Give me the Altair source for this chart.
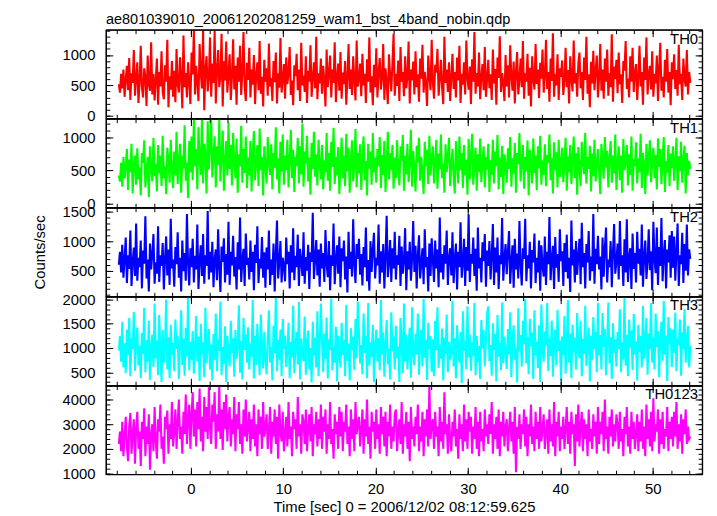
import math
import altair as alt
import pandas as pd

# ---------------- data ----------------
T_START = -7.8
T_STEP = 0.125

th0 = [
    520, 380, 690, 450, 760, 310, 600, 820, 420, 950, 260, 700, 540, 1080, 330, 620,
    880, 210, 560, 1150, 470, 300, 780, 640, 160, 990, 520, 410, 1210, 350, 690, 250,
    600, 940, 180, 720, 480, 1060, 390, 270, 830, 560, 1250, 140, 650, 430, 900, 310,
    740, 220, 1100, 520, 380, 960, 640, 120, 1320, 470, 700, 300, 880, 560, 190, 1040,
    680, 1400, 350, 820, 560, 240, 1180, 700, 450, 1410, 90, 760, 980, 400, 620, 1290,
    310, 860, 540, 1400, 200, 730, 1080, 470, 640, 1350, 150, 900, 580, 1220, 380, 700,
    1010, 260, 640, 1260, 430, 820, 180, 960, 560, 1150, 340, 720, 1380, 480, 240, 870,
    590, 1120, 300, 760, 510, 1000, 190, 680, 880, 420, 1230, 360, 640, 150, 920, 560,
    780, 330, 1190, 480, 620, 240, 900, 550, 1040, 200, 700, 460, 1280, 380, 610, 850,
    280, 960, 520, 700, 1130, 340, 580, 170, 830, 650, 1020, 420, 760, 240, 1200, 500,
    660, 390, 980, 210, 740, 560, 1160, 310, 620, 880, 450, 1300, 270, 700, 530, 940,
    360, 820, 580, 150, 1090, 470, 690, 990, 300, 760, 540, 1210, 220, 640, 860, 410,
    1050, 280, 710, 520, 900, 180, 630, 1180, 440, 760, 340, 980, 590, 250, 1240, 480,
    600, 860, 320, 1020, 500, 690, 210, 930, 560, 1290, 380, 650, 170, 840, 470, 1110,
    300, 720, 950, 430, 620, 1180, 260, 780, 540, 190, 1010, 660, 400, 870, 1350, 330,
    690, 490, 910, 240, 1130, 560, 720, 320, 980, 450, 640, 1220, 200, 760, 580, 890,
    350, 1060, 470, 680, 230, 940, 610, 1170, 380, 720, 530, 160, 990, 650, 420, 1250,
    560, 280, 840, 710, 1100, 330, 600, 920, 470, 190, 1300, 540, 760, 390, 880, 240,
    650, 1020, 440, 720, 300, 960, 580, 1150, 210, 690, 510, 880, 350, 1240, 620, 430,
    810, 190, 930, 560, 1380, 360, 700, 480, 1040, 270, 640, 850, 420, 1130, 310, 600,
    920, 450, 680, 260, 1090, 530, 770, 180, 960, 620, 1310, 390, 700, 540, 240, 1000,
    480, 830, 300, 1160, 640, 410, 890, 200, 720, 1050, 350, 600, 940, 470, 1230, 280,
    700, 560, 1020, 330, 790, 150, 980, 620, 430, 1180, 520, 760, 290, 870, 610, 1090,
    380, 660, 1250, 440, 720, 230, 940, 570, 1360, 310, 690, 500, 1010, 260, 780, 640,
    910, 340, 580, 1120, 470, 750, 200, 980, 620, 400, 1240, 530, 700, 310, 860, 1040,
    450, 720, 260, 960, 590, 1300, 360, 680, 140, 890, 530, 1070, 420, 750, 990, 300,
    620, 1180, 410, 760, 280, 940, 560, 1090, 330, 700, 470, 1340, 230, 810, 600, 920,
    370, 1040, 520, 680, 210, 900, 740, 1230, 440, 610, 300, 980, 560, 1120, 390, 700,
    850, 260, 630, 1150, 480, 720, 180, 960, 590, 1290, 350, 680, 820, 430, 1060, 310,
    690, 530, 990, 240, 780, 1200, 410, 640, 300, 920, 560, 1100, 380, 720, 170, 880,
    600, 1010, 440, 750, 330, 1170, 520, 690, 260, 940, 610, 480, 1080, 350, 720, 540,
]

th1 = [
    420, 330, 610, 250, 700, 380, 560, 820, 200, 660, 470, 900, 150, 590, 720, 280,
    830, 360, 540, 120, 760, 610, 950, 240, 480, 700, 90, 860, 520, 330, 990, 410,
    600, 180, 880, 450, 720, 260, 1020, 380, 560, 140, 840, 650, 310, 960, 500, 230,
    780, 420, 1080, 290, 650, 900, 160, 720, 530, 1180, 340, 620, 80, 940, 470, 1010,
    350, 1280, 560, 820, 210, 1150, 640, 430, 1280, 300, 900, 720, 150, 1240, 510, 860,
    1280, 390, 700, 1010, 240, 860, 580, 1280, 330, 760, 1100, 190, 640, 940, 420, 1220,
    520, 880, 270, 1060, 640, 380, 980, 160, 740, 560, 1170, 310, 820, 460, 1010, 230,
    690, 420, 940, 180, 760, 1090, 350, 610, 880, 260, 1130, 500, 700, 120, 860, 570,
    300, 1000, 620, 430, 890, 210, 760, 540, 1150, 360, 680, 150, 930, 480, 1040, 280,
    720, 500, 960, 240, 640, 1110, 380, 810, 170, 700, 560, 990, 300, 860, 440, 1200,
    250, 780, 600, 1020, 330, 690, 130, 910, 520, 1080, 400, 740, 270, 960, 580, 360,
    880, 210, 650, 470, 1060, 340, 760, 190, 930, 550, 1140, 290, 700, 420, 850, 140,
    620, 990, 380, 720, 260, 1050, 480, 840, 160, 670, 950, 330, 580, 1120, 240, 760,
    450, 890, 200, 700, 1010, 350, 640, 120, 900, 530, 780, 280, 1060, 470, 690, 310,
    820, 560, 1000, 230, 730, 430, 940, 170, 610, 1080, 360, 760, 500, 880, 220, 690,
    380, 950, 540, 270, 860, 640, 1030, 190, 720, 440, 900, 320, 610, 1110, 250, 790,
    530, 180, 870, 620, 990, 340, 700, 480, 140, 930, 560, 810, 290, 1020, 420, 680,
    860, 300, 640, 960, 220, 750, 510, 1040, 380, 600, 160, 890, 470, 720, 990, 260,
    580, 820, 410, 150, 940, 630, 300, 1010, 500, 760, 230, 880, 420, 660, 130, 970,
    360, 710, 1050, 280, 590, 840, 190, 740, 470, 980, 320, 620, 860, 240, 700, 510,
    900, 170, 650, 430, 960, 300, 780, 560, 1030, 210, 690, 400, 870, 140, 740, 590,
    310, 830, 520, 1000, 250, 680, 450, 910, 160, 760, 590, 1060, 330, 620, 880, 220,
    700, 480, 950, 120, 810, 570, 300, 980, 460, 720, 200, 860, 530, 1020, 280, 650,
    430, 890, 260, 730, 610, 1040, 350, 680, 150, 920, 500, 770, 240, 960, 400, 600,
    840, 320, 580, 990, 190, 710, 470, 880, 290, 640, 1010, 380, 760, 130, 850, 540,
    260, 930, 620, 440, 1060, 300, 700, 520, 870, 180, 750, 410, 960, 330, 590, 820,
    480, 140, 900, 650, 370, 1000, 540, 790, 240, 680, 940, 310, 720, 450, 1040, 200,
    610, 860, 350, 720, 160, 970, 500, 640, 880, 270, 740, 430, 1010, 190, 660, 560,
    920, 300, 680, 470, 1050, 230, 760, 590, 140, 900, 420, 700, 950, 320, 610, 840,
    380, 730, 210, 980, 550, 820, 290, 690, 1000, 170, 640, 460, 880, 260, 750, 530,
    860, 340, 620, 990, 200, 710, 480, 930, 310, 650, 870, 150, 760, 420, 640, 520,
]

th2 = [
    600, 820, 470, 940, 380, 700, 1060, 290, 760, 530, 1180, 240, 650, 890, 410, 1300,
    330, 720, 560, 1010, 200, 840, 620, 1420, 370, 690, 150, 960, 520, 780, 1120, 280,
    640, 450, 1250, 310, 760, 580, 970, 180, 700, 1080, 420, 860, 260, 1380, 540, 690,
    230, 900, 610, 1150, 380, 720, 150, 1010, 490, 800, 330, 1460, 620, 250, 880, 560,
    1040, 300, 750, 520, 1280, 190, 670, 930, 410, 1120, 280, 760, 580, 1510, 350, 820,
    470, 990, 220, 700, 860, 340, 1200, 560, 140, 910, 650, 1050, 300, 780, 430, 1330,
    260, 820, 590, 1090, 400, 730, 180, 980, 520, 1400, 310, 690, 870, 240, 1130, 600,
    720, 350, 1010, 480, 820, 170, 940, 630, 1250, 290, 700, 540, 1070, 380, 810, 210,
    890, 520, 1180, 260, 690, 430, 960, 150, 780, 1350, 370, 640, 1000, 300, 720, 580,
    320, 1060, 610, 820, 200, 930, 470, 1220, 340, 750, 560, 1110, 240, 870, 660, 410,
    1150, 280, 730, 500, 940, 190, 810, 650, 1480, 360, 700, 1020, 420, 860, 230, 960,
    540, 800, 310, 1190, 620, 390, 1000, 170, 760, 580, 1300, 270, 690, 930, 450, 1080,
    220, 880, 660, 1010, 350, 740, 130, 1160, 530, 820, 400, 1370, 610, 290, 950, 700,
    1040, 430, 780, 250, 900, 560, 1230, 320, 680, 160, 1000, 480, 860, 1140, 370, 720,
    590, 1280, 280, 830, 470, 950, 200, 740, 1430, 390, 650, 1020, 310, 880, 540, 1160,
    350, 760, 600, 1090, 240, 910, 450, 680, 1220, 170, 830, 520, 990, 330, 700, 1340,
    480, 920, 200, 760, 1100, 370, 640, 880, 270, 1200, 560, 730, 150, 960, 410, 1050,
    690, 310, 1010, 540, 860, 220, 1400, 470, 780, 350, 930, 620, 1180, 260, 710, 880,
    420, 1150, 290, 700, 960, 180, 820, 560, 1320, 380, 640, 1040, 240, 900, 500, 1450,
    310, 780, 620, 1060, 410, 870, 160, 1230, 540, 720, 300, 980, 660, 1120, 230, 840,
    580, 1000, 350, 740, 1290, 260, 890, 470, 1060, 190, 760, 610, 1390, 330, 700, 950,
    440, 820, 1170, 280, 660, 930, 210, 1040, 520, 790, 370, 1340, 600, 250, 880, 700,
    1380, 320, 760, 540, 990, 200, 850, 640, 1130, 290, 720, 470, 1010, 160, 930, 580,
    400, 1080, 260, 820, 610, 1410, 340, 700, 920, 190, 1070, 550, 780, 310, 1200, 660,
    830, 240, 970, 480, 1110, 370, 720, 140, 1350, 590, 860, 300, 1000, 430, 760, 1040,
    270, 1310, 560, 800, 200, 950, 640, 1170, 330, 740, 490, 1460, 280, 870, 610, 1090,
    520, 740, 180, 1060, 400, 880, 1230, 300, 690, 560, 1000, 220, 810, 1290, 450, 650,
    960, 350, 1340, 580, 760, 240, 1030, 470, 1370, 310, 720, 880, 190, 1130, 530, 800,
    300, 1160, 620, 870, 420, 1280, 230, 750, 1010, 360, 660, 1200, 510, 830, 170, 1330,
    700, 460, 1230, 260, 900, 580, 1390, 320, 780, 1020, 200, 860, 640, 1100, 380, 1170,
    550, 1080, 330, 820, 1300, 240, 760, 610, 1140, 290, 950, 500, 1280, 420, 860, 700,
]

th3 = [
    950, 1250, 720, 1540, 600, 1100, 480, 1380, 860, 1620, 420, 1200, 980, 1750, 530, 1100,
    1420, 640, 1050, 380, 1310, 880, 1830, 500, 1160, 720, 1560, 340, 1000, 1280, 610, 1920,
    790, 1150, 440, 1680, 930, 300, 1370, 700, 1040, 2000, 560, 1220, 380, 1480, 860, 1110,
    520, 1590, 980, 1250, 360, 1060, 1780, 650, 1190, 430, 1420, 820, 2050, 540, 1130, 760,
    1350, 470, 1010, 1660, 720, 1240, 320, 1500, 880, 1120, 400, 1830, 690, 1060, 1390, 560,
    1080, 330, 1290, 760, 1710, 520, 1180, 940, 1960, 440, 1020, 680, 1450, 300, 1250, 860,
    620, 1560, 900, 1200, 410, 1370, 780, 1050, 1880, 490, 1150, 350, 1620, 960, 1280, 700,
    1430, 560, 1100, 820, 1990, 370, 1250, 650, 1500, 930, 440, 1690, 1060, 580, 1330, 790,
    460, 1210, 1780, 700, 1020, 330, 1460, 890, 2040, 520, 1170, 760, 1380, 420, 1600, 980,
    1260, 610, 940, 1520, 380, 1130, 810, 1870, 480, 1050, 1330, 660, 1950, 350, 1200, 870,
    730, 1650, 450, 1090, 1360, 560, 1000, 290, 1540, 840, 1210, 600, 1760, 420, 1070, 1920,
    1140, 500, 1300, 780, 1630, 370, 1180, 960, 2020, 540, 1020, 700, 1440, 310, 1260, 880,
    600, 1520, 860, 1170, 420, 1890, 740, 1090, 330, 1410, 960, 1230, 550, 1600, 790, 1960,
    1350, 680, 1060, 460, 1710, 900, 1250, 380, 1930, 640, 1120, 820, 1480, 300, 1030, 1380,
    720, 1200, 540, 1990, 870, 1320, 410, 1080, 1580, 660, 990, 350, 1740, 930, 1240, 560,
    1460, 790, 1030, 300, 1620, 1150, 480, 1920, 720, 1280, 560, 1050, 1420, 390, 1840, 900,
    640, 1300, 870, 1710, 450, 1100, 1380, 620, 2010, 800, 1170, 340, 1520, 980, 1250, 510,
    1180, 420, 1560, 960, 1840, 590, 1070, 780, 1400, 330, 1210, 880, 1690, 500, 1130, 760,
    890, 1980, 620, 1200, 380, 1470, 1020, 700, 1330, 280, 1760, 940, 1150, 560, 1860, 810,
    1280, 530, 1120, 840, 1930, 440, 1250, 710, 1040, 360, 1580, 990, 1370, 620, 1190, 1720,
    1860, 730, 1060, 430, 1510, 960, 1290, 310, 1680, 820, 1110, 540, 1940, 680, 1230, 900,
    570, 1390, 870, 1740, 400, 1150, 1470, 760, 1010, 290, 1820, 930, 1270, 620, 1560, 1080,
    2010, 680, 1230, 460, 1600, 1040, 1320, 360, 1780, 850, 1140, 590, 1470, 300, 1900, 960,
    720, 1340, 1050, 1930, 520, 1200, 830, 1560, 410, 1070, 1380, 640, 1790, 940, 1160, 330,
    1240, 860, 1660, 470, 1120, 1990, 700, 1300, 380, 1480, 920, 1210, 560, 1720, 1040, 790,
    1560, 420, 1190, 880, 1870, 630, 1080, 1420, 310, 1260, 760, 1640, 980, 1330, 500, 1930,
    850, 1270, 560, 1720, 1030, 1390, 440, 1150, 1940, 680, 1220, 360, 1510, 900, 1180, 620,
    1330, 980, 1800, 500, 1120, 760, 2040, 640, 1270, 420, 1590, 1010, 1360, 550, 1700, 870,
    1140, 330, 1480, 920, 1250, 600, 1870, 780, 1090, 1620, 450, 1300, 980, 1930, 700, 1210,
    560, 1710, 1020, 1350, 400, 1180, 1540, 740, 1970, 870, 1260, 320, 1640, 1090, 1410, 610,
    1380, 900, 1730, 520, 1200, 1060, 1590, 430, 1320, 980, 1800, 700, 1150, 1460, 600, 1050,
]

th0123 = [
    2200, 2700, 1900, 3100, 1700, 2500, 3300, 2100, 1500, 2900, 3450, 1800, 2600, 3200, 1400, 2800,
    3500, 2000, 2700, 1300, 3100, 2400, 3650, 1700, 2900, 2200, 3400, 1150, 2600, 3000, 1900, 3700,
    2300, 1600, 3200, 2700, 3800, 2000, 2500, 1400, 3300, 2800, 3550, 1800, 3000, 2400, 3900, 2100,
    2700, 3600, 2000, 3100, 4000, 2400, 2900, 1800, 3500, 2600, 4200, 2200, 3200, 3800, 2000, 3400,
    4300, 2500, 3600, 2100, 3900, 2800, 4450, 2300, 3300, 1900, 4100, 2700, 3700, 2400, 4500, 2900,
    2200, 3800, 3100, 4300, 2000, 3400, 2700, 4550, 2400, 3600, 1950, 3900, 2800, 4200, 2300, 3300,
    3700, 2100, 3200, 2600, 4100, 1900, 3400, 2800, 3900, 2200, 3000, 1800, 3600, 2500, 4000, 2300,
    2900, 3500, 1900, 3200, 2400, 3800, 2100, 3000, 1700, 3600, 2600, 3300, 2000, 3900, 2500, 2900,
    3400, 2000, 2800, 3700, 1800, 3100, 2500, 3600, 2200, 3300, 1600, 3800, 2700, 2300, 3500, 1900,
    2600, 3300, 2100, 3900, 2400, 2900, 1700, 3500, 2800, 3200, 2000, 4100, 2500, 3000, 1800, 3400,
    3100, 2200, 3600, 1900, 2800, 3400, 2300, 3700, 1700, 3000, 2600, 3500, 2100, 3200, 2400, 3800,
    2000, 3300, 2700, 3600, 1800, 3000, 2400, 3900, 2200, 2800, 1600, 3400, 2600, 3100, 2000, 3700,
    2500, 3500, 1900, 3100, 2700, 3800, 2200, 2900, 1700, 3600, 2400, 3200, 1900, 3900, 2600, 3000,
    3300, 2100, 2800, 3600, 1800, 3200, 2500, 4000, 2200, 2900, 1600, 3500, 2700, 3100, 2000, 3600,
    2400, 3000, 1800, 3700, 2600, 3300, 2100, 3500, 1700, 3100, 2500, 3800, 2000, 2900, 2300, 3400,
    3600, 1900, 2700, 3200, 2200, 3900, 1800, 3000, 2500, 3500, 2000, 3100, 1500, 3700, 2400, 2900,
    2100, 3300, 2600, 3800, 1900, 2900, 2300, 3500, 1700, 3200, 2500, 3600, 2100, 4550, 2400, 3000,
    3200, 2000, 3500, 2500, 2900, 1700, 3700, 2300, 3100, 2000, 4300, 2600, 3000, 1800, 3400, 2400,
    1900, 3100, 2500, 3600, 2100, 2800, 1600, 3400, 2400, 3000, 1900, 3800, 2300, 3200, 2000, 3500,
    2700, 3300, 1800, 2900, 2400, 3700, 2000, 3100, 1700, 3500, 2300, 2800, 1900, 3600, 2500, 3000,
    2200, 3400, 2600, 3900, 1800, 3000, 2400, 3300, 2000, 3600, 1700, 3100, 2500, 3500, 2100, 2900,
    3200, 1900, 2800, 3500, 2300, 3100, 1800, 3700, 1050, 2900, 2400, 3400, 2000, 3000, 2600, 3600,
    2100, 3300, 1700, 3000, 2500, 3800, 2200, 2900, 1900, 3500, 2400, 3100, 2000, 3700, 2300, 2800,
    3400, 2000, 2700, 3200, 1800, 3600, 2300, 3000, 2100, 3900, 1700, 3100, 2500, 3500, 1900, 2900,
    2400, 3300, 2000, 2800, 3700, 2200, 3100, 1800, 3500, 2600, 3000, 1300, 3400, 2300, 3800, 2100,
    2900, 3500, 1900, 3200, 2400, 3000, 1700, 3600, 2300, 2800, 2000, 3400, 2500, 3100, 1800, 3700,
    2200, 3100, 2600, 3500, 1900, 4000, 2400, 2900, 1800, 3300, 2500, 3600, 2100, 3000, 2300, 3400,
    3000, 2000, 3500, 2300, 2800, 1700, 3300, 2600, 3700, 2100, 2900, 1800, 3500, 2400, 3100, 2000,
    2600, 3400, 1900, 3100, 2300, 3600, 2000, 2900, 1700, 3800, 2400, 3200, 2100, 3500, 1900, 4050,
    2300, 3000, 2700, 3600, 1800, 3200, 2200, 3500, 2000, 2800, 2500, 3700, 1900, 3100, 2400, 3300,
    2100, 3500, 2500, 3900, 2000, 3000, 2300, 3400, 1800, 3200, 2600, 3600, 2200, 2900, 2400, 2500,
]

names = ["TH0", "TH1", "TH2", "TH3", "TH0123"]
series = [th0, th1, th2, th3, th0123]
colors = ["#ff0000", "#00ff00", "#0000ff", "#00ffff", "#ff00ff"]
y_domains = [[-44, 1417], [-60, 1278], [67, 1567], [233, 2060], [970, 4565]]
y_major = [[0, 500, 1000], [0, 500, 1000], [500, 1000, 1500],
           [500, 1000, 1500, 2000], [1000, 2000, 3000, 4000]]
y_minor_step = [100, 100, 100, 100, 200]
x_domain = [-9.2, 55.35]
x_major = [0, 10, 20, 30, 40, 50]
x_minor = list(range(-8, 56, 2))

title_text = "ae801039010_20061202081259_wam1_bst_4band_nobin.qdp"
x_title = "Time [sec] 0 = 2006/12/02 08:12:59.625"
y_title = "Counts/sec"

FONT = "Liberation Sans"
W = 603
H = 448 / 5
MAJ = 7
MIN = 4


def axis(orient, values, size, labels=False, title=None, **kw):
    opts = dict(orient=orient, values=values, tickSize=size, offset=-size,
                labels=labels, domain=False, grid=False, zindex=2,
                tickColor="black", tickWidth=1, labelOverlap=False,
                labelFlush=False, labelBound=False, format="d")
    opts["title"] = title
    opts.update(kw)
    return alt.Axis(**opts)


def frame_axis(orient):
    return alt.Axis(orient=orient, ticks=False, labels=False, domain=True,
                    domainColor="black", domainWidth=1.2, grid=False,
                    title=None, zindex=3)


def panel(i):
    vals = series[i]
    df = pd.DataFrame({"t": [T_START + T_STEP * k for k in range(len(vals))],
                       "v": vals})
    dom = y_domains[i]
    step = y_minor_step[i]
    ymin = [v for v in range(int(math.ceil(dom[0] / step)) * step, dom[1] + 1, step)]
    xs = alt.Scale(domain=x_domain, nice=False, zero=False)
    ys = alt.Scale(domain=dom, nice=False, zero=False)
    last = i == len(series) - 1
    middle = i == 2
    base = alt.Chart(df)

    bx_kw = dict(labelPadding=7, titlePadding=4) if last else {}
    main = base.mark_line(color=colors[i], strokeWidth=2.1, strokeJoin="miter",
                          clip=True).encode(
        x=alt.X("t:Q", scale=xs,
                axis=axis("bottom", x_major, MAJ, labels=last,
                          title=x_title if last else None, **bx_kw)),
        y=alt.Y("v:Q", scale=ys,
                axis=axis("left", y_major[i], MAJ, labels=True,
                          title=y_title if middle else None,
                          labelPadding=11, titleX=-66)),
    )
    minor_bl = base.mark_line(strokeOpacity=0).encode(
        x=alt.X("t:Q", scale=xs, axis=axis("bottom", x_minor, MIN)),
        y=alt.Y("v:Q", scale=ys, axis=axis("left", ymin, MIN)),
    )
    major_tr = base.mark_line(strokeOpacity=0).encode(
        x=alt.X("t:Q", scale=xs, axis=axis("top", x_major, MAJ)),
        y=alt.Y("v:Q", scale=ys, axis=axis("right", y_major[i], MAJ)),
    )
    minor_tr = base.mark_line(strokeOpacity=0).encode(
        x=alt.X("t:Q", scale=xs, axis=axis("top", x_minor, MIN)),
        y=alt.Y("v:Q", scale=ys, axis=axis("right", ymin, MIN)),
    )
    frame_bl = base.mark_line(strokeOpacity=0).encode(
        x=alt.X("t:Q", scale=xs, axis=frame_axis("bottom")),
        y=alt.Y("v:Q", scale=ys, axis=frame_axis("left")),
    )
    frame_tr = base.mark_line(strokeOpacity=0).encode(
        x=alt.X("t:Q", scale=xs, axis=frame_axis("top")),
        y=alt.Y("v:Q", scale=ys, axis=frame_axis("right")),
    )
    label = alt.Chart(pd.DataFrame({"n": [names[i]]})).mark_text(
        align="right", baseline="middle", font=FONT, fontSize=15, color="black"
    ).encode(x=alt.value(W - 4), y=alt.value(9), text="n:N")

    layer = alt.layer(frame_bl, frame_tr, minor_bl, major_tr, minor_tr, main,
                      label).resolve_axis(
        x="independent", y="independent"
    ).properties(width=W, height=H)
    if i == 0:
        layer = layer.properties(title=alt.Title(
            title_text, anchor="start", frame="group", font=FONT, fontSize=14.7,
            fontWeight="normal", color="black", baseline="alphabetic", offset=-9))
    return layer


chart = alt.vconcat(*[panel(i) for i in range(len(series))], spacing=0,
                    bounds="flush").properties(
    padding={"left": 24, "top": 0, "right": 5, "bottom": 5},
    background="white",
).configure_view(stroke="black", strokeWidth=1.2).configure_axis(
    labelFont=FONT, labelFontSize=15, labelColor="black",
    titleFont=FONT, titleFontSize=15, titleColor="black", titleFontWeight="normal"
)

chart.save("out.html", embed_options={"renderer": "svg", "actions": False})
